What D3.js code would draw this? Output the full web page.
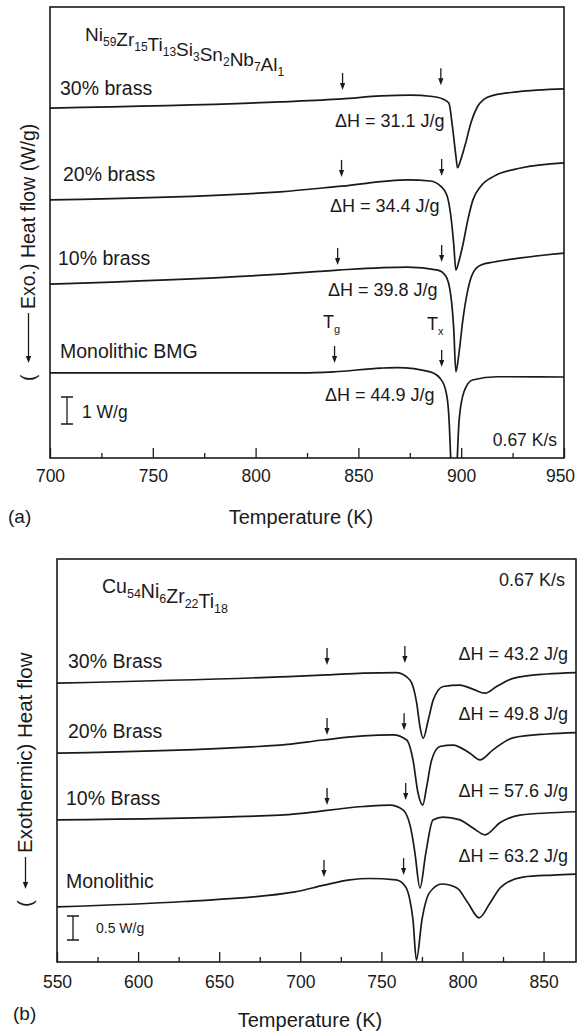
<!DOCTYPE html>
<html>
<head>
<meta charset="utf-8">
<script src="https://cdn.jsdelivr.net/npm/d3@7"></script>
<style>
  body { margin: 0; background: #fff; }
  text { font-family: "Liberation Sans", Arial, sans-serif; fill: #1a1a1a; }
</style>
</head>
<body>
<div id="chart"></div>
<script>
// ---- panel (a): Ni59Zr15Ti13Si3Sn2Nb7Al1, offset heat flow in W/g vs T (K)
const a30 = [[700,12.96],[812,13.19],[842,13.30],[861,13.41],[875,13.44],[886,13.39],[891,13.30],[894,13.15],
  [895.7,12.3],[897.4,11.2],[898.2,10.75],[899.8,11.05],[902.2,11.67],[904.7,12.41],[907.9,13.01],[911,13.28],
  [916,13.44],[927,13.56],[950,13.67]]
const a20 = [[700,9.56],[812,9.86],[842,10.07],[874,10.30],[885,10.26],[890,10.07],[893,9.74],[894.9,9.0],
  [896.4,7.89],[897.4,6.96],[898.8,7.26],[900.8,7.89],[903.2,8.81],[905.7,9.56],[909.6,10.07],[916,10.44],
  [929,10.74],[950,10.93]]
const a10 = [[700,6.44],[812,6.81],[840,6.96],[874,7.07],[888.6,6.96],[892.5,6.74],[894.9,6.04],[896.4,4.74],
  [897.4,3.19],[898.8,3.81],[900.8,5.11],[903.2,6.22],[905.7,6.85],[909.6,7.15],[916,7.26],[929,7.41],[950,7.59]]
const a0 = [[700,3.15],[822,3.15],[838,3.19],[861,3.33],[869,3.35],[885,3.19],[890.9,2.83],[893.3,2.15],
  [894.1,1.41],[894.9,0],[895.9,-1.56],[896.6,-2.67],[897.4,-1.56],[898.1,0],[899,1.41],[901.4,2.46],
  [905.5,2.89],[917.7,3.01],[950,3.0]]
const aNames = ['30% brass', '20% brass', '10% brass', 'Monolithic BMG']
const aDeltaH = ['31.1', '34.4', '39.8', '44.9']
const aTg = [842.3, 841.8, 839.9, 838.4]
const aTx = [890.1, 890.5, 890.5, 890.5]
const aTgTip = [13.63, 10.41, 7.15, 3.52]
const aTxTip = [13.81, 10.44, 7.26, 3.37]
const aTicks = [700, 750, 800, 850, 900, 950]
const aMinor = [725, 775, 825, 875, 925]

// ---- panel (b): Cu54Ni6Zr22Ti18
const b30 = [[550,5.81],[687.5,5.94],[716.5,5.98],[738.7,6.02],[759.4,6.03],[767.6,5.875],[771.8,5.39],
  [773.8,4.9],[775.8,4.66],[778.9,5.04],[782,5.46],[788.2,5.74],[798.5,5.77],[806.7,5.68],[813.9,5.6],
  [821.1,5.74],[831.3,5.91],[851.9,6.0],[870,6.03]]
const b20 = [[550,4.35],[687.5,4.52],[714,4.625],[738.7,4.71],[757.2,4.73],[765.6,4.625],[769.5,4.21],
  [772.6,3.52],[775.5,3.27],[777.9,3.65],[781,4.21],[786.1,4.49],[794.1,4.52],[804.6,4.35],[810.8,4.21],
  [818.8,4.42],[831.1,4.67],[852.1,4.75],[870,4.78]]
const b10 = [[550,2.96],[687.5,3.06],[738.7,3.24],[755.3,3.27],[763.3,3.17],[768.7,2.69],[770.7,2.27],
  [773.8,1.54],[777.4,2.27],[781.8,2.96],[788,3.02],[798.5,2.96],[806.5,2.79],[813.9,2.65],[823.1,2.9],
  [835.4,3.06],[870,3.13]]
const b0 = [[550,1.15],[628.3,1.26],[696.7,1.46],[714.6,1.6],[730.6,1.71],[742.4,1.74],[759,1.71],[764.9,1.57],
  [767.6,1.29],[769.5,0.875],[771.6,0.04],[775,0.875],[779.6,1.44],[787.4,1.625],[796.6,1.54],[803.4,1.23],
  [810.2,0.92],[817,1.23],[823.7,1.56],[837.3,1.77],[855.8,1.81],[870,1.83]]
const bNames = ['30% Brass', '20% Brass', '10% Brass', 'Monolithic']
const bDeltaH = ['43.2', '49.8', '57.6', '63.2']
const bTg = [716.5, 716.5, 716.5, 714.6]
const bTx = [764.5, 764, 765, 763.7]
const bTgTip = [6.19, 4.73, 3.27, 1.77]
const bTxTip = [6.23, 4.83, 3.375, 1.81]
const bTicks = [550, 600, 650, 700, 750, 800, 850]
const bMinor = [575, 625, 675, 725, 775, 825]

const ink = '#1a1a1a'

const svg = d3.select('#chart').append('svg')
    .attr('width', 578)
    .attr('height', 1032)

// text with subscripts, parts = [[main, sub], ...]
const chem = (g, x, y, parts, size, subSize) => {
    const t = g.append('text').attr('x', x).attr('y', y).style('font-size', size + 'px')
    parts.forEach(([m, s]) => {
        t.append('tspan').text(m).attr('dy', 0)
        if (s) {
            t.append('tspan').text(s).style('font-size', subSize + 'px').attr('dy', 5)
            t.append('tspan').text('').attr('dy', -5)
        }
    })
    return t
}

const drawPanel = (p) => {
    const x = d3.scaleLinear().domain(p.tDomain).range([p.x0, p.x1])
    const y = d3.scaleLinear().domain([0, (p.y1 - p.y0) / p.pxPerUnit]).range([p.y1, p.y0])
    const g = svg.append('g')

    g.append('clipPath').attr('id', 'clip' + p.id)
        .append('rect').attr('x', p.x0).attr('y', p.y0)
        .attr('width', p.x1 - p.x0).attr('height', p.y1 - p.y0)

    // ticks pointing inward
    const ax = g.append('g').attr('transform', 'translate(0,' + p.y1 + ')')
        .call(d3.axisBottom(x).tickValues(p.ticks).tickSize(-10).tickPadding(p.pad).tickFormat(d3.format('d')))
    ax.select('.domain').remove()
    ax.selectAll('text').style('font-size', '17.5px').attr('font-family', null).style('fill', ink)
    ax.selectAll('line').attr('stroke', ink).attr('stroke-width', 1.3)
    // keep the last label inside the page, as in the figure
    ax.selectAll('.tick').filter(d => d === p.ticks[p.ticks.length - 1]).select('text').attr('dx', p.lastDx || 0)
    const mx = g.append('g').attr('transform', 'translate(0,' + p.y1 + ')')
        .call(d3.axisBottom(x).tickValues(p.minor).tickSize(-5).tickFormat(''))
    mx.select('.domain').remove()
    mx.selectAll('line').attr('stroke', ink).attr('stroke-width', 1.3)

    const line = d3.line()
        .x(d => x(d[0]))
        .y(d => y(d[1]))
        .curve(d3.curveMonotoneX)

    g.append('g').attr('clip-path', 'url(#clip' + p.id + ')')
        .selectAll('path')
        .data(p.series)
        .enter().append('path')
        .attr('d', line)
        .attr('fill', 'none')
        .attr('stroke', ink)
        .attr('stroke-width', 1.7)

    // Tg / Tx arrows
    const arrows = []
    p.tg.forEach((t, i) => arrows.push([t, p.tgTip[i]]))
    p.tx.forEach((t, i) => arrows.push([t, p.txTip[i]]))
    const ar = g.selectAll('.arrow').data(arrows).enter().append('g').attr('class', 'arrow')
    ar.append('line')
        .attr('x1', d => x(d[0])).attr('x2', d => x(d[0]))
        .attr('y1', d => y(d[1]) - 17).attr('y2', d => y(d[1]) - 5)
        .attr('stroke', ink).attr('stroke-width', 1.3)
    ar.append('path')
        .attr('d', d => {
            const cx = x(d[0]), cy = y(d[1])
            return 'M' + (cx - 2.6) + ',' + (cy - 7) + 'L' + (cx + 2.6) + ',' + (cy - 7) + 'L' + cx + ',' + cy + 'Z'
        })
        .attr('fill', ink)

    // scale bar
    const sb = p.scaleBar
    const sx = p.x0 + sb.dx
    g.append('path')
        .attr('d', 'M' + (sx - 6) + ',' + y(sb.v0) + 'H' + (sx + 6) +
            'M' + sx + ',' + y(sb.v0) + 'V' + y(sb.v0 + sb.len) +
            'M' + (sx - 6) + ',' + y(sb.v0 + sb.len) + 'H' + (sx + 6))
        .attr('stroke', ink).attr('stroke-width', 1.3).attr('fill', 'none')

    // frame
    g.append('rect')
        .attr('x', p.x0).attr('y', p.y0)
        .attr('width', p.x1 - p.x0).attr('height', p.y1 - p.y0)
        .attr('fill', 'none').attr('stroke', ink).attr('stroke-width', 1.6)

    return g
}

// ---------- panel a
const gA = drawPanel({
    id: 'a', x0: 50, x1: 564, y0: 7, y1: 458, tDomain: [700, 950], pxPerUnit: 27,
    series: [a30, a20, a10, a0], ticks: aTicks, minor: aMinor, pad: 12, lastDx: -4,
    tg: aTg, tx: aTx, tgTip: aTgTip, txTip: aTxTip,
    scaleBar: { dx: 17, v0: 1.26, len: 1 }
})
chem(gA, 85, 41, [['Ni','59'],['Zr','15'],['Ti','13'],['Si','3'],['Sn','2'],['Nb','7'],['Al','1']], 19, 12)
const aNameY = [95, 181, 265, 358]
const aNameX = [60, 63, 58, 60]
aNames.forEach((n, i) => gA.append('text').attr('x', aNameX[i]).attr('y', aNameY[i]).style('font-size', '19.5px').text(n))
const aDhY = [127, 212, 296, 401]
const aDhX = [335, 330, 328, 325]
aDeltaH.forEach((v, i) => gA.append('text').attr('x', aDhX[i]).attr('y', aDhY[i]).style('font-size', '18px').text('\u0394H = ' + v + ' J/g'))
chem(gA, 323, 328, [['T','g']], 18, 11)
chem(gA, 427, 330, [['T','x']], 18, 11)
gA.append('text').attr('x', 82).attr('y', 418).style('font-size', '17.5px').text('1 W/g')
gA.append('text').attr('x', 557).attr('y', 446).attr('text-anchor', 'end').style('font-size', '17.5px').text('0.67 K/s')
gA.append('text').attr('x', 8).attr('y', 523).style('font-size', '19px').text('(a)')
gA.append('text').attr('x', 301).attr('y', 524).attr('text-anchor', 'middle').style('font-size', '20px').text('Temperature (K)')

// ---------- panel b
const gB = drawPanel({
    id: 'b', x0: 57, x1: 576, y0: 559, y1: 962, tDomain: [550, 870], pxPerUnit: 48,
    series: [b30, b20, b10, b0], ticks: bTicks, minor: bMinor, pad: 14,
    tg: bTg, tx: bTx, tgTip: bTgTip, txTip: bTxTip,
    scaleBar: { dx: 16, v0: 0.458, len: 0.5 }
})
chem(gB, 102, 593, [['Cu','54'],['Ni','6'],['Zr','22'],['Ti','18']], 19.5, 12.5)
gB.append('text').attr('x', 565).attr('y', 586).attr('text-anchor', 'end').style('font-size', '18px').text('0.67 K/s')
const bNameY = [668, 738, 805, 888]
const bNameX = [68, 68, 66, 66]
bNames.forEach((n, i) => gB.append('text').attr('x', bNameX[i]).attr('y', bNameY[i]).style('font-size', '19.5px').text(n))
const bDhY = [660, 720, 797, 862]
bDeltaH.forEach((v, i) => gB.append('text').attr('x', 568).attr('y', bDhY[i]).attr('text-anchor', 'end').style('font-size', '18px').text('\u0394H = ' + v + ' J/g'))
gB.append('text').attr('x', 96).attr('y', 933).style('font-size', '14px').text('0.5 W/g')
gB.append('text').attr('x', 13).attr('y', 1020).style('font-size', '19px').text('(b)')
gB.append('text').attr('x', 310).attr('y', 1027).attr('text-anchor', 'middle').style('font-size', '20px').text('Temperature (K)')

// ---------- rotated y labels: "( <-- Exo.) Heat flow (W/g)"
const yLabel = (tx, ty, arrowLen, rest, size) => {
    const g = svg.append('g').attr('transform', 'translate(' + tx + ',' + ty + ') rotate(-90)')
    g.append('text').attr('x', 0).attr('y', 0).style('font-size', size + 'px').text('(')
    const a0x = 18, a1x = 18 + arrowLen
    g.append('line').attr('x1', a0x + 5).attr('x2', a1x).attr('y1', -6.5).attr('y2', -6.5)
        .attr('stroke', ink).attr('stroke-width', 1.3)
    g.append('path').attr('d', 'M' + a0x + ',-6.5L' + (a0x + 7) + ',-9.2L' + (a0x + 7) + ',-3.8Z').attr('fill', ink)
    g.append('text').attr('x', a1x + 4).attr('y', 0).style('font-size', size + 'px').text(rest)
}
yLabel(35, 381, 50, 'Exo.) Heat flow (W/g)', 19.5)
yLabel(32, 907, 32, 'Exothermic) Heat flow', 20.5)
</script>
</body>
</html>
